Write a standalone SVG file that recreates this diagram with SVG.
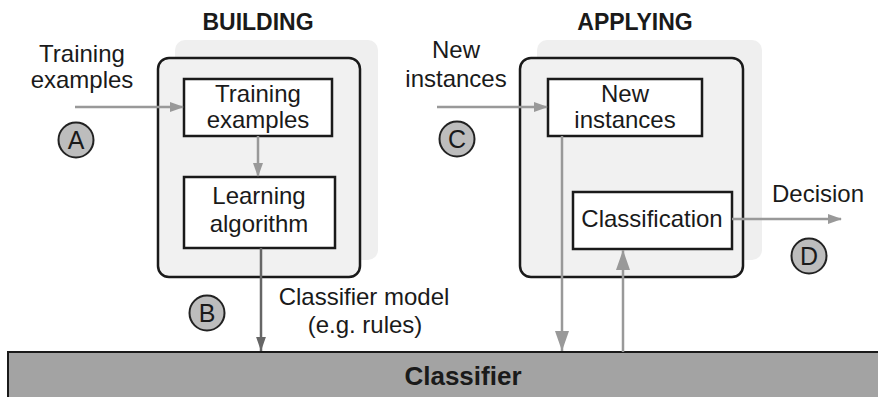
<svg xmlns="http://www.w3.org/2000/svg" width="878" height="397" viewBox="0 0 878 397">
<style>
text{font-family:"Liberation Sans",Arial,sans-serif;fill:#1a1a1a}
.lbl{font-size:24px;text-anchor:middle}
.ttl{font-size:23px;font-weight:bold;text-anchor:middle}
.shadow{fill:#efefef;stroke:none}
.panel{fill:#f1f1f1;stroke:#1a1a1a;stroke-width:2.5}
.box{fill:#fff;stroke:#1a1a1a;stroke-width:2.5}
.circ{fill:#bdbdbd;stroke:#222;stroke-width:2}
.cl{font-size:25px;text-anchor:middle}
.conn{stroke:#999;stroke-width:2.5;fill:none}
.connd{stroke:#666;stroke-width:2.5;fill:none}
</style>
<defs>
<marker id="ah" markerUnits="userSpaceOnUse" markerWidth="14" markerHeight="12" refX="13" refY="6" orient="auto"><path d="M0,1 L14,6 L0,11 Z" fill="#999"/></marker>
<marker id="ahd" markerUnits="userSpaceOnUse" markerWidth="14" markerHeight="14" refX="20" refY="7" orient="auto" viewBox="0 0 20 14"><path d="M0,0 L20,7 L0,14 Z" fill="#666"/></marker>
<marker id="ahl" markerUnits="userSpaceOnUse" markerWidth="20" markerHeight="14" refX="20" refY="7" orient="auto" viewBox="0 0 20 14"><path d="M0,0 L20,7 L0,14 Z" fill="#999"/></marker>
</defs>

<g id="building">
<rect class="shadow" x="175" y="40" width="203" height="220" rx="10"/>
<rect class="panel" x="158" y="58" width="202" height="219" rx="11"/>
<text class="ttl" x="258" y="30">BUILDING</text>
</g>
<g id="applying">
<rect class="shadow" x="537" y="40" width="225" height="220" rx="10"/>
<rect class="panel" x="520" y="58" width="223" height="219" rx="11"/>
<text class="ttl" x="635" y="30">APPLYING</text>
</g>

<g id="classifier">
<rect x="8" y="352" width="880" height="60" fill="#a3a3a3" stroke="#1a1a1a" stroke-width="2"/>
<text x="463" y="385" font-size="26" font-weight="bold" text-anchor="middle">Classifier</text>
</g>

<g id="input-training">
<text class="lbl" x="82" y="62">Training</text>
<text class="lbl" x="82" y="88">examples</text>
</g>
<g id="input-new">
<text class="lbl" x="456" y="58">New</text>
<text class="lbl" x="456" y="87">instances</text>
</g>

<g id="training-examples">
<rect class="box" x="184" y="79" width="148" height="57"/>
<text class="lbl" x="258" y="102">Training</text>
<text class="lbl" x="258" y="128">examples</text>
</g>
<g id="learning-algorithm">
<rect class="box" x="184" y="177" width="151" height="71"/>
<text class="lbl" x="259" y="204">Learning</text>
<text class="lbl" x="259" y="232">algorithm</text>
</g>
<g id="new-instances">
<rect class="box" x="548" y="79" width="154" height="57"/>
<text class="lbl" x="625" y="102">New</text>
<text class="lbl" x="625" y="128">instances</text>
</g>
<g id="classification">
<rect class="box" x="573" y="192" width="159" height="57"/>
<text class="lbl" x="652" y="227">Classification</text>
</g>

<g id="label-model">
<text class="lbl" x="364" y="305">Classifier model</text>
<text class="lbl" x="365" y="333">(e.g. rules)</text>
</g>
<g id="label-decision">
<text class="lbl" x="818" y="202">Decision</text>
</g>

<g id="circle-a"><circle class="circ" cx="76" cy="140" r="17.5"/><text class="cl" x="76" y="149">A</text></g>
<g id="circle-b"><circle class="circ" cx="207" cy="313" r="17.5"/><text class="cl" x="207" y="322">B</text></g>
<g id="circle-c"><circle class="circ" cx="457" cy="139" r="17.5"/><text class="cl" x="457" y="148">C</text></g>
<g id="circle-d"><circle class="circ" cx="809" cy="256" r="17.5"/><text class="cl" x="809" y="265">D</text></g>

<g id="connectors">
<line class="conn" x1="75" y1="107" x2="183" y2="107" marker-end="url(#ah)"/>
<line class="conn" x1="258" y1="136" x2="258" y2="176" marker-end="url(#ah)"/>
<line class="connd" x1="261" y1="248" x2="261" y2="351" marker-end="url(#ahd)"/>
<line class="conn" x1="437" y1="107" x2="547" y2="107" marker-end="url(#ah)"/>
<line class="conn" x1="562" y1="136" x2="562" y2="351" marker-end="url(#ahl)"/>
<line class="conn" x1="623" y1="352" x2="623" y2="250" marker-end="url(#ahl)"/>
<line class="conn" x1="732" y1="219" x2="841" y2="219" marker-end="url(#ah)"/>
</g>
</svg>
